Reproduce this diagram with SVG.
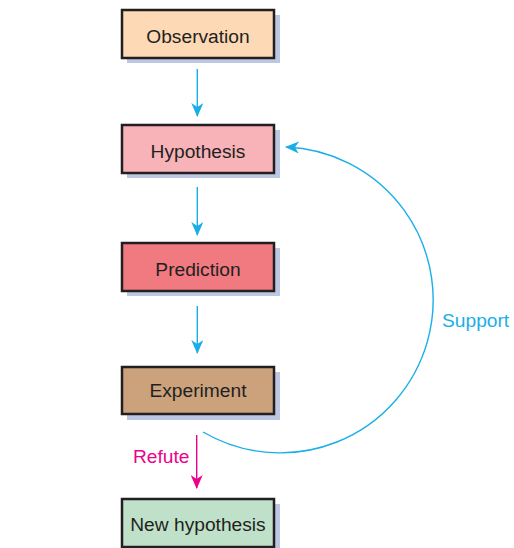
<svg xmlns="http://www.w3.org/2000/svg" width="514" height="548" viewBox="0 0 514 548">
<style>
.shadow{fill:#bcc7e3}
.box{stroke:#231f20;stroke-width:2.5}
.lbl{font-family:"Liberation Sans",Arial,sans-serif;font-size:19.2px;fill:#231f20;text-anchor:middle}
.blue{stroke:#1aaee8;stroke-width:1.4;fill:none}
.mag{stroke:#ec008c;stroke-width:1.4;fill:none}
.side{font-family:"Liberation Sans",Arial,sans-serif;font-size:19.2px}
</style>
<defs>
<marker id="ab" viewBox="0 0 14 12" refX="13" refY="6" markerWidth="14" markerHeight="12" markerUnits="userSpaceOnUse" orient="auto">
<path d="M0,0 L14,6 L0,12 L4,6 Z" fill="#1aaee8"/>
</marker>
<marker id="am" viewBox="0 0 14 12" refX="13" refY="6" markerWidth="14" markerHeight="12" markerUnits="userSpaceOnUse" orient="auto">
<path d="M0,0 L14,6 L0,12 L4,6 Z" fill="#ec008c"/>
</marker>
</defs>
<g id="observation">
<rect class="shadow" x="127" y="15" width="153" height="48"/>
<rect class="box" x="122" y="10" width="152" height="48" fill="#fdd9b5"/>
<text class="lbl" x="198" y="43">Observation</text>
</g>
<g id="hypothesis">
<rect class="shadow" x="127" y="130" width="153" height="48"/>
<rect class="box" x="122" y="125" width="152" height="48" fill="#f7b3b8"/>
<text class="lbl" x="198" y="158">Hypothesis</text>
</g>
<g id="prediction">
<rect class="shadow" x="127" y="248" width="153" height="48"/>
<rect class="box" x="122" y="243" width="152" height="48" fill="#f07a80"/>
<text class="lbl" x="198" y="276">Prediction</text>
</g>
<g id="experiment">
<rect class="shadow" x="127" y="372" width="153" height="48"/>
<rect class="box" x="122" y="367" width="152" height="47" fill="#cba27b"/>
<text class="lbl" x="198" y="397">Experiment</text>
</g>
<g id="new-hypothesis">
<rect class="shadow" x="127" y="504" width="153" height="48"/>
<rect class="box" x="122" y="499" width="152" height="48" fill="#c0e1c9"/>
<text class="lbl" x="198" y="531">New hypothesis</text>
</g>
<g id="connectors">
<path class="blue" d="M197.3,69 V116" marker-end="url(#ab)"/>
<path class="blue" d="M197.3,187 V235" marker-end="url(#ab)"/>
<path class="blue" d="M197.3,306 V353" marker-end="url(#ab)"/>
<path class="blue" d="M203,432 A153,153 0 1 0 286,147" marker-end="url(#ab)"/>
<path class="mag" d="M196.7,435 V488" marker-end="url(#am)"/>
<text class="side" x="442" y="327" fill="#1aaee8">Support</text>
<text class="side" x="133" y="463" fill="#ec008c">Refute</text>
</g>
</svg>
